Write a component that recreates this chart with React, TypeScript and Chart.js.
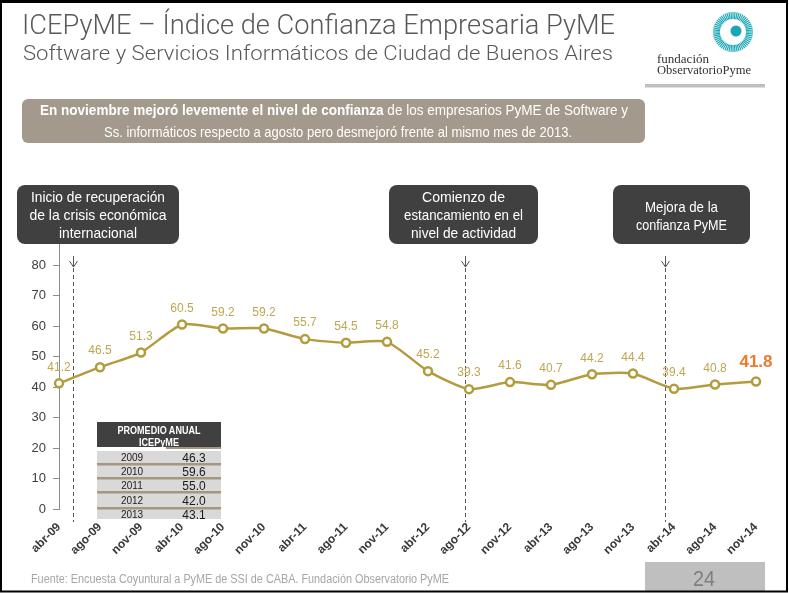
import React, { useEffect, useRef } from "react";
import { Chart, registerables } from "chart.js";

Chart.register(...registerables);

// ---------- data ----------
const categories = [
  "abr-09", "ago-09", "nov-09", "abr-10", "ago-10", "nov-10", "abr-11", "ago-11", "nov-11",
  "abr-12", "ago-12", "nov-12", "abr-13", "ago-13", "nov-13", "abr-14", "ago-14", "nov-14",
];
const icepyme = [41.2, 46.5, 51.3, 60.5, 59.2, 59.2, 55.7, 54.5, 54.8, 45.2, 39.3, 41.6, 40.7, 44.2, 44.4, 39.4, 40.8, 41.8];
const yMin = 0;
const yMax = 80;
const yStep = 10;
const years = ["2009", "2010", "2011", "2012", "2013"];
const yearAverages = [46.3, 59.6, 55.0, 42.0, 43.1];
// category-index positions of the three dashed event markers
const eventPositions = [0.34, 9.9, 14.77];
const eventTexts = [
  ["Inicio de recuperación", "de la crisis económica", "internacional"],
  ["Comienzo de", "estancamiento en el", "nivel de actividad"],
  ["Mejora de la", "confianza PyME"],
];

const FONT = "'Liberation Sans', Arial, sans-serif";
const GOLD = "#B39B3E";
const LABEL_GOLD = "#BFA651";
const ORANGE = "#F07A2C";

const markerPlugin = {
  id: "markers",
  beforeDatasetsDraw(chart: any) {
    const { ctx, chartArea } = chart;
    const xs = chart.scales.x;
    const ys = chart.scales.y;
    ctx.save();
    // y axis line extension up to the first callout
    ctx.strokeStyle = "#8c8c8c";
    ctx.lineWidth = 1;
    const ax = Math.round(ys.right) + 0.5;
    ctx.beginPath();
    ctx.moveTo(ax, 244);
    ctx.lineTo(ax, chartArea.top);
    ctx.stroke();
    eventPositions.forEach((p) => {
      const px = Math.round(xs.getPixelForValue(p)) + 0.5;
      ctx.strokeStyle = "#555555";
      ctx.lineWidth = 1;
      ctx.setLineDash([]);
      ctx.beginPath();
      ctx.moveTo(px, 256);
      ctx.lineTo(px, 267);
      ctx.moveTo(px - 4, 261);
      ctx.lineTo(px, 267);
      ctx.lineTo(px + 4, 261);
      ctx.stroke();
      ctx.setLineDash([4, 3]);
      ctx.beginPath();
      ctx.moveTo(px, 268);
      ctx.lineTo(px, 522);
      ctx.stroke();
    });
    ctx.restore();
  },
};

const labelPlugin = {
  id: "pointLabels",
  afterDatasetsDraw(chart: any) {
    const { ctx } = chart;
    const meta = chart.getDatasetMeta(0);
    ctx.save();
    ctx.textAlign = "center";
    ctx.textBaseline = "middle";
    meta.data.forEach((pt: any, i: number) => {
      const last = i === icepyme.length - 1;
      ctx.fillStyle = last ? ORANGE : LABEL_GOLD;
      ctx.font = last ? `bold 17px ${FONT}` : `12px ${FONT}`;
      ctx.fillText(icepyme[i].toFixed(1), pt.x, pt.y - (last ? 19 : 16));
    });
    ctx.restore();
  },
};

function ChartCanvas() {
  const ref = useRef<HTMLCanvasElement>(null);
  useEffect(() => {
    if (!ref.current) return;
    const chart = new Chart(ref.current, {
      type: "line",
      data: {
        labels: categories,
        datasets: [
          {
            data: icepyme,
            borderColor: GOLD,
            borderWidth: 2.5,
            pointRadius: 4,
            pointBorderWidth: 2.5,
            pointBackgroundColor: "#ffffff",
            pointBorderColor: GOLD,
            tension: 0.2,
            clip: false as any,
          },
        ],
      },
      options: {
        responsive: false,
        animation: false,
        devicePixelRatio: 1,
        layout: { padding: { left: 0, right: 33, top: 265, bottom: 0 } },
        plugins: { legend: { display: false }, tooltip: { enabled: false } },
        scales: {
          x: {
            type: "category",
            offset: false,
            grid: { display: false, drawTicks: false },
            border: { display: false },
            ticks: {
              autoSkip: false,
              maxRotation: 45,
              minRotation: 45,
              padding: 11,
              color: "#3a3a3a",
              font: { family: FONT, size: 12, weight: "bold" },
            },
            afterFit: (s: any) => {
              s.height = 84;
            },
          },
          y: {
            min: yMin,
            max: yMax,
            ticks: { stepSize: yStep, padding: 7, color: "#404040", font: { family: FONT, size: 13 } },
            grid: { drawOnChartArea: false, drawTicks: true, tickLength: 6, color: "#8c8c8c" },
            border: { display: true, color: "#8c8c8c", width: 1 },
            afterFit: (s: any) => {
              s.width = 59;
            },
          },
        },
      },
      plugins: [markerPlugin, labelPlugin],
    });
    return () => chart.destroy();
  }, []);
  return (
    <canvas
      ref={ref}
      width={789}
      height={593}
      style={{ position: "absolute", left: 0, top: 0, width: 789, height: 593, display: "block" }}
    />
  );
}

function Logo() {
  const cx = 733;
  const cy = 32;
  const ticks = [];
  for (let i = 0; i < 60; i++) {
    const a = (i / 60) * Math.PI * 2;
    ticks.push(
      <line
        key={i}
        x1={cx + Math.cos(a) * 13}
        y1={cy + Math.sin(a) * 13}
        x2={cx + Math.cos(a) * 20}
        y2={cy + Math.sin(a) * 20}
        stroke="#1AA7B5"
        strokeWidth={1.2}
      />
    );
  }
  return (
    <g>
      {ticks}
      <circle cx={cx + 3} cy={cy - 1} r={5.5} fill="#1AA7B5" />
      <text x={657} y={63} fontFamily="'Liberation Serif', serif" fontSize={12} fill="#333" textLength={52} lengthAdjust="spacingAndGlyphs">
        fundación
      </text>
      <text x={657} y={74} fontFamily="'Liberation Serif', serif" fontSize={12} fill="#333" textLength={94} lengthAdjust="spacingAndGlyphs">
        ObservatorioPyme
      </text>
      <rect x={645} y={84} width={120} height={3.5} fill="#BFBFBF" />
    </g>
  );
}

function Overlay() {
  const boxes = [
    { x: 17, w: 162, lines: eventTexts[0], base: [202, 220, 238], widths: [134, 137, 78] },
    { x: 389, w: 149, lines: eventTexts[1], base: [202, 220, 238], widths: [83, 119, 105] },
    { x: 613, w: 137, lines: eventTexts[2], base: [212, 230], widths: [73, 91] },
  ];
  const rowTops = [451, 465, 479, 493, 509];
  const rowBottoms = [463, 477, 491, 507, 519];
  return (
    <svg
      width={789}
      height={593}
      style={{ position: "absolute", left: 0, top: 0, pointerEvents: "none" }}
    >
      {/* title */}
      <text x={22} y={34} fontFamily="Roboto, sans-serif" fontWeight={300} fontSize={28} fill="#595959" textLength={593} lengthAdjust="spacingAndGlyphs">
        ICEPyME – Índice de Confianza Empresaria PyME
      </text>
      <text x={23} y={60} fontFamily="Roboto, sans-serif" fontWeight={300} fontSize={21} fill="#595959" textLength={590} lengthAdjust="spacingAndGlyphs">
        Software y Servicios Informáticos de Ciudad de Buenos Aires
      </text>
      <Logo />
      {/* summary box */}
      <rect x={22} y={99} width={623} height={44} rx={6} fill="#A39A8D" />
      <text x={334} y={115} textAnchor="middle" fontFamily={FONT} fontSize={15} fill="#ffffff" textLength={588} lengthAdjust="spacingAndGlyphs">
        <tspan fontWeight="bold">En noviembre mejoró levemente el nivel de confianza</tspan> de los empresarios PyME de Software y
      </text>
      <text x={338} y={137} textAnchor="middle" fontFamily={FONT} fontSize={15} fill="#ffffff" textLength={468} lengthAdjust="spacingAndGlyphs">
        Ss. informáticos respecto a agosto pero desmejoró frente al mismo mes de 2013.
      </text>
      {/* callouts */}
      {boxes.map((b, i) => (
        <g key={i}>
          <rect x={b.x} y={185} width={b.w} height={59} rx={8} fill="#404040" />
          {b.lines.map((l, j) => (
            <text
              key={j}
              x={b.x + b.w / 2}
              y={b.base[j]}
              textAnchor="middle"
              fontFamily={FONT}
              fontSize={15}
              fill="#ffffff"
              textLength={b.widths[j]}
              lengthAdjust="spacingAndGlyphs"
            >
              {l}
            </text>
          ))}
        </g>
      ))}
      {/* annual average table */}
      <rect x={97} y={422} width={124} height={25} fill="#404040" />
      <text x={159} y={434} textAnchor="middle" fontFamily={FONT} fontWeight="bold" fontSize={10.5} fill="#fff" textLength={83} lengthAdjust="spacingAndGlyphs">
        PROMEDIO ANUAL
      </text>
      <text x={159} y={446} textAnchor="middle" fontFamily={FONT} fontWeight="bold" fontSize={10.5} fill="#fff" textLength={40} lengthAdjust="spacingAndGlyphs">
        ICEPyME
      </text>
      <rect x={166} y={447} width={55} height={2} fill="#A59680" />
      <rect x={97} y={451} width={124} height={68} fill="#D9D9D9" />
      {rowBottoms.slice(0, 4).map((b, i) => (
        <rect key={i} x={97} y={b} width={124} height={2.5} fill="#A59680" />
      ))}
      {years.map((yr, i) => {
        const mid = (rowTops[i] + rowBottoms[i]) / 2;
        return (
          <g key={yr}>
            <text x={132} y={mid + 4} textAnchor="middle" fontFamily={FONT} fontSize={10} fill="#222">
              {yr}
            </text>
            <text x={194} y={mid + 4.5} textAnchor="middle" fontFamily={FONT} fontSize={12} fill="#1a1a1a">
              {yearAverages[i].toFixed(1)}
            </text>
          </g>
        );
      })}
      {/* footer */}
      <text x={31} y={583} fontFamily={FONT} fontSize={12} fill="#A6A6A6" textLength={418} lengthAdjust="spacingAndGlyphs">
        Fuente: Encuesta Coyuntural a PyME de SSI de CABA. Fundación Observatorio PyME
      </text>
      <rect x={645} y={562} width={120} height={29} fill="#BFBFBF" />
      <text x={704} y={586} textAnchor="middle" fontFamily={FONT} fontSize={22} fill="#7F7F7F" textLength={22} lengthAdjust="spacingAndGlyphs">
        24
      </text>
      {/* frame */}
      <rect x={1} y={1.5} width={786} height={590} fill="none" stroke="#000" strokeWidth={2} />
      <rect x={0} y={0} width={788} height={3} fill="#000" />
    </svg>
  );
}

export default function App() {
  useEffect(() => {
    document.body.style.margin = "0";
  }, []);
  return (
    <div style={{ position: "relative", width: 789, height: 593, background: "#fff", overflow: "hidden" }}>
      <ChartCanvas />
      <Overlay />
    </div>
  );
}
